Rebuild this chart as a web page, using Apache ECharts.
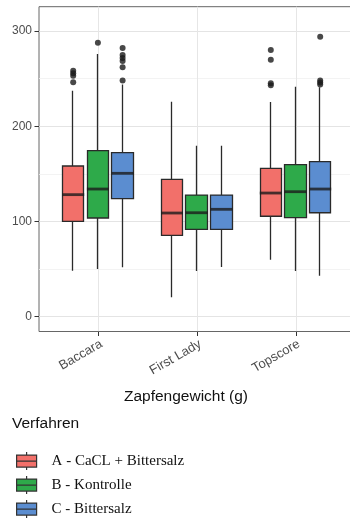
<!DOCTYPE html>
<html>
<head>
<meta charset="utf-8">
<script src="https://cdn.jsdelivr.net/npm/echarts@6/dist/echarts.min.js"></script>
<style>
html,body{margin:0;padding:0;background:#fff;overflow:hidden;width:350px;height:521px;}
#c{width:380px;height:521px;}
</style>
</head>
<body>
<div id="c"></div>
<script>
// ---- data ----
const categories = ['Baccara', 'First Lady', 'Topscore'];
const groupNames = ['A - CaCL + Bittersalz', 'B - Kontrolle', 'C - Bittersalz'];
const groupColors = ['#F2706A', '#2EAA4A', '#5B8DD0'];
// [min, Q1, median, Q3, max] per category
const statsA = [[48.3, 100.2, 128.2, 158.3, 237.4], [20.4, 85.5, 108.9, 144.3, 225.8], [59.9, 105.5, 129.9, 155.9, 225.5]];
const statsB = [[50.1, 103.7, 134.1, 174.4, 276.0], [48.0, 91.8, 109.2, 127.8, 179.6], [48.0, 104.0, 131.3, 159.7, 241.6]];
const statsC = [[51.9, 124.0, 150.6, 172.3, 244.0], [52.2, 91.8, 112.8, 127.8, 179.6], [43.1, 109.2, 134.1, 162.8, 241.0]];
// outliers [category, value]
const outliersA = [['Baccara', 246.2], ['Baccara', 253.1], ['Baccara', 255.6], ['Baccara', 258.4],
                   ['Topscore', 243.1], ['Topscore', 245.2], ['Topscore', 270.0], ['Topscore', 280.1]];
const outliersB = [['Baccara', 287.8]];
const outliersC = [['Baccara', 248.0], ['Baccara', 262.0], ['Baccara', 268.6], ['Baccara', 271.7], ['Baccara', 275.0], ['Baccara', 282.2],
                   ['Topscore', 244.0], ['Topscore', 246.0], ['Topscore', 248.0], ['Topscore', 294.1]];
const yMin = 0, yMax = 300, yStep = 100;

// ---- build ----
const allStats = [statsA, statsB, statsC];
const allOut = [outliersA, outliersB, outliersC];
const SLOTS = 17, FIRST = 3, STEP = 5;
const slotLabels = [];
for (let i = 0; i < SLOTS; i++) slotLabels.push('');
categories.forEach((c, i) => { slotLabels[FIRST + STEP * i] = c; });
const isCatSlot = (idx) => idx >= FIRST && (idx - FIRST) % STEP === 0;

const sans = 'Liberation Sans, Arial, sans-serif';
const serif = 'Liberation Serif, Times New Roman, serif';

const plotTop = 31.1, plotH = 285.6;
const boxLefts = [23.8, 48.5, 73.2];
const grids = [
  {left: 39, top: 6.7, width: 316, height: 324.8, show: true, backgroundColor: '#fff', borderColor: '#666', borderWidth: 1},
  {left: 39, top: plotTop, width: 316, height: plotH}
];
boxLefts.forEach(l => grids.push({left: l, top: plotTop, width: 296.4, height: plotH}));

const xAxes = [
  {
    gridIndex: 0, type: 'category', data: slotLabels, boundaryGap: false,
    axisLine: {show: false},
    axisTick: {show: true, interval: isCatSlot, length: 4.5, lineStyle: {color: '#333', width: 1}},
    axisLabel: {interval: isCatSlot, rotate: 30, align: 'right', verticalAlign: 'top', margin: 6,
                color: '#4d4d4d', fontSize: 13, fontFamily: sans},
    splitLine: {show: true, interval: isCatSlot, lineStyle: {color: '#e6e6e6', width: 1}},
    name: 'Zapfengewicht (g)', nameLocation: 'middle', nameGap: 57,
    nameTextStyle: {color: '#111', fontSize: 15.5, fontFamily: sans, padding: [0, 22, 0, 0]}
  },
  {gridIndex: 1, type: 'value', min: 0, max: 1, show: false}
];
const yAxes = [
  {gridIndex: 0, type: 'value', min: 0, max: 1, show: false},
  {
    gridIndex: 1, type: 'value', min: yMin, max: yMax, interval: yStep,
    axisLine: {show: false},
    axisTick: {show: true, length: 4.5, lineStyle: {color: '#333', width: 1}},
    axisLabel: {color: '#4d4d4d', fontSize: 12, fontFamily: sans, margin: 7},
    splitLine: {show: true, lineStyle: {color: '#e4e4e4', width: 1}},
    minorTick: {show: false, splitNumber: 2},
    minorSplitLine: {show: true, lineStyle: {color: '#f0f0f0', width: 0.8}}
  }
];
const series = [];
allStats.forEach((st, g) => {
  const ax = g + 2;
  xAxes.push({gridIndex: ax, type: 'category', data: categories, show: false});
  yAxes.push({gridIndex: ax, type: 'value', min: yMin, max: yMax, show: false});
  series.push({
    name: groupNames[g], type: 'candlestick', xAxisIndex: ax, yAxisIndex: ax,
    barWidth: 22, silent: true, z: 3,
    itemStyle: {color: groupColors[g], color0: groupColors[g], borderColor: '#2a2a2a', borderColor0: '#2a2a2a', borderWidth: 1.3},
    data: st.map(s => [s[1], s[3], s[0], s[4]])
  });
  series.push({
    type: 'scatter', xAxisIndex: ax, yAxisIndex: ax, silent: true, z: 4,
    symbol: 'rect', symbolSize: [22, 2.8], itemStyle: {color: '#1c1c1c'},
    data: st.map((s, i) => [categories[i], s[2]])
  });
  series.push({
    type: 'scatter', xAxisIndex: ax, yAxisIndex: ax, silent: true, z: 4,
    symbol: 'circle', symbolSize: 6, itemStyle: {color: '#1a1a1a'},
    data: allOut[g]
  });
});

const legendIcon = 'path://M0,3L20,3L20,15L0,15Z M0,9L20,9 M10,0L10,3 M10,15L10,18';
const legendTops = [451.5, 475.5, 499.5];
const legendPads = [[9, 0, 0, 10], [1, 0, 0, 10], [0, 0, 9, 10]];
const legends = groupNames.map((n, g) => ({
  data: [{name: n, icon: legendIcon, itemStyle: {color: groupColors[g], borderColor: '#333', borderWidth: 1.2}}],
  left: 16, top: legendTops[g], orient: 'vertical', padding: 0, selectedMode: false,
  itemWidth: 20, itemHeight: 18,
  textStyle: {fontFamily: serif, fontSize: 15, color: '#111', padding: legendPads[g]}
}));

const chart = echarts.init(document.getElementById('c'), null, {renderer: 'canvas'});
chart.setOption({
  animation: false,
  backgroundColor: '#fff',
  title: {text: 'Verfahren', left: 12, top: 415.5, padding: 0,
          textStyle: {fontFamily: sans, fontSize: 15.5, fontWeight: 'normal', color: '#111'}},
  legend: legends,
  grid: grids,
  xAxis: xAxes,
  yAxis: yAxes,
  series: series
});
</script>
</body>
</html>
